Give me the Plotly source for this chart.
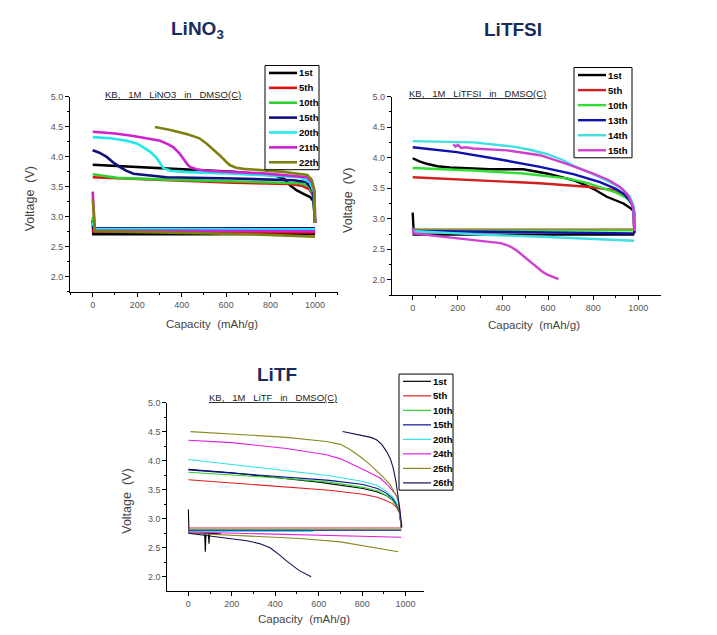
import plotly.graph_objects as go

# ---------------- DATA ----------------
# Panel 1: LiNO3
lino3_cycles = ["1st", "5th", "10th", "15th", "20th", "21th", "22th"]
lino3_chg_cap = [
    [0, 150, 333, 633, 820, 858, 890, 918, 950, 978, 995, 1000],
    [0, 333, 633, 888, 940, 975, 992, 1000],
    [0, 50, 108, 333, 783, 933, 970, 990, 1000],
    [0, 30, 63, 95, 123, 150, 183, 250, 333, 633, 903, 960, 990, 1000],
    [0, 80, 153, 200, 228, 260, 288, 305, 318, 350, 408, 633, 933, 975, 995, 1000],
    [0, 100, 183, 250, 303, 340, 363, 390, 408, 425, 438, 470, 513, 783, 963, 985, 997, 1000],
    [280, 350, 423, 480, 513, 545, 573, 600, 618, 645, 678, 858, 965, 985, 997, 1000],
]
lino3_chg_v = [
    [3.87, 3.84, 3.80, 3.75, 3.69, 3.64, 3.52, 3.44, 3.38, 3.33, 3.25, 2.90],
    [3.66, 3.61, 3.57, 3.55, 3.52, 3.46, 3.35, 2.90],
    [3.71, 3.68, 3.65, 3.62, 3.58, 3.56, 3.52, 3.40, 2.90],
    [4.11, 4.07, 4.00, 3.90, 3.83, 3.77, 3.72, 3.69, 3.66, 3.64, 3.61, 3.58, 3.45, 2.90],
    [4.33, 4.31, 4.27, 4.22, 4.16, 4.08, 3.98, 3.88, 3.81, 3.77, 3.75, 3.72, 3.66, 3.58, 3.42, 2.90],
    [4.42, 4.39, 4.35, 4.31, 4.27, 4.21, 4.16, 4.06, 3.96, 3.88, 3.83, 3.79, 3.77, 3.72, 3.66, 3.58, 3.42, 2.90],
    [4.50, 4.45, 4.38, 4.31, 4.22, 4.12, 4.02, 3.92, 3.86, 3.82, 3.80, 3.75, 3.70, 3.62, 3.45, 2.90],
]
lino3_dis_cap = [
    [0, 3, 500, 1000],
    [0, 5, 1000],
    [0, 8, 1000],
    [0, 5, 1000],
    [0, 10, 1000],
    [0, 10, 1000],
    [0, 10, 300, 700, 1000],
]
lino3_dis_v = [
    [2.95, 2.71, 2.71, 2.72],
    [2.80, 2.75, 2.74],
    [3.00, 2.79, 2.78],
    [2.85, 2.81, 2.81],
    [2.90, 2.80, 2.79],
    [3.42, 2.77, 2.76],
    [3.30, 2.76, 2.74, 2.71, 2.67],
]

# Panel 2: LiTFSI
litfsi_cycles = ["1st", "5th", "10th", "13th", "14th", "15th"]
litfsi_chg_cap = [
    [0, 30, 62, 110, 165, 343, 490, 594, 660, 712, 760, 800, 860, 934, 970, 982, 982],
    [0, 269, 564, 786, 889, 950, 975, 982],
    [0, 269, 490, 682, 760, 830, 900, 948, 972, 982, 982],
    [0, 195, 387, 564, 712, 830, 900, 934, 962, 978, 982],
    [0, 269, 446, 520, 594, 660, 712, 830, 900, 934, 962, 978, 982],
    [180, 190, 200, 215, 235, 269, 417, 564, 682, 800, 870, 919, 955, 978, 982],
]
litfsi_chg_v = [
    [3.99, 3.94, 3.90, 3.86, 3.84, 3.81, 3.81, 3.74, 3.68, 3.63, 3.56, 3.49, 3.36, 3.25, 3.16, 3.10, 2.76],
    [3.68, 3.63, 3.58, 3.52, 3.47, 3.38, 3.25, 2.80],
    [3.83, 3.79, 3.74, 3.66, 3.60, 3.52, 3.43, 3.34, 3.24, 3.12, 2.80],
    [4.17, 4.09, 3.97, 3.85, 3.73, 3.60, 3.49, 3.41, 3.30, 3.18, 2.78],
    [4.27, 4.25, 4.18, 4.13, 4.06, 3.97, 3.87, 3.68, 3.55, 3.47, 3.36, 3.22, 2.80],
    [4.22, 4.18, 4.21, 4.16, 4.17, 4.15, 4.12, 4.04, 3.90, 3.74, 3.63, 3.52, 3.38, 3.18, 2.80],
]
litfsi_dis_cap = [
    [0, 5, 982],
    [0, 982],
    [0, 5, 982],
    [0, 982],
    [0, 300, 600, 982],
    [0, 5, 100, 195, 270, 343, 390, 417, 440, 461, 483, 505, 528, 550, 572, 594, 620, 646],
]
litfsi_dis_v = [
    [3.10, 2.74, 2.74],
    [2.82, 2.82],
    [2.85, 2.81, 2.81],
    [2.80, 2.76],
    [2.80, 2.74, 2.70, 2.64],
    [2.85, 2.76, 2.72, 2.68, 2.66, 2.63, 2.60, 2.57, 2.53, 2.48, 2.41, 2.34, 2.27, 2.20, 2.14, 2.09, 2.05, 2.01],
]

# Panel 3: LiTF
litf_cycles = ["1st", "5th", "10th", "15th", "20th", "24th", "25th", "26th"]
litf_chg_cap = [
    [0, 200, 422, 600, 804, 870, 911, 940, 959, 972, 980],
    [0, 422, 650, 804, 870, 911, 940, 959, 972, 980],
    [0, 422, 650, 804, 870, 911, 940, 959, 972, 980],
    [0, 422, 650, 804, 870, 911, 940, 959, 972, 980],
    [0, 422, 650, 804, 870, 911, 940, 959, 972, 980],
    [0, 200, 452, 636, 700, 759, 820, 882, 920, 958, 972, 980],
    [10, 200, 452, 636, 700, 744, 790, 836, 885, 928, 966, 980],
    [710, 790, 840, 866, 890, 912, 930, 943, 955, 966, 976, 983],
]
litf_chg_v = [
    [3.85, 3.79, 3.70, 3.63, 3.52, 3.46, 3.40, 3.32, 3.22, 3.10, 2.85],
    [3.67, 3.56, 3.49, 3.42, 3.37, 3.31, 3.26, 3.19, 3.10, 2.85],
    [3.80, 3.70, 3.63, 3.54, 3.48, 3.40, 3.32, 3.22, 3.12, 2.85],
    [3.84, 3.73, 3.66, 3.59, 3.52, 3.44, 3.35, 3.24, 3.13, 2.85],
    [4.02, 3.84, 3.74, 3.64, 3.57, 3.47, 3.38, 3.27, 3.15, 2.85],
    [4.35, 4.31, 4.21, 4.10, 4.03, 3.93, 3.82, 3.70, 3.57, 3.40, 3.22, 2.85],
    [4.50, 4.46, 4.40, 4.33, 4.28, 4.19, 4.07, 3.93, 3.76, 3.59, 3.33, 2.85],
    [4.50, 4.44, 4.40, 4.36, 4.28, 4.16, 4.03, 3.87, 3.65, 3.36, 3.05, 2.85],
]
litf_dis_cap = [
    [0, 3, 75, 78, 81, 92, 95, 98, 150],
    [0, 980],
    [0, 980],
    [0, 980],
    [0, 575],
    [0, 500, 980],
    [0, 300, 514, 700, 966],
    [0, 146, 269, 330, 376, 415, 453, 509, 565],
]
litf_dis_v = [
    [3.16, 2.75, 2.75, 2.43, 2.75, 2.75, 2.57, 2.75, 2.74],
    [2.84, 2.84],
    [2.81, 2.81],
    [2.80, 2.80],
    [2.78, 2.78],
    [2.77, 2.72, 2.68],
    [2.75, 2.70, 2.66, 2.60, 2.43],
    [2.75, 2.68, 2.62, 2.57, 2.50, 2.39, 2.27, 2.11, 2.00],
]

# ---------------- STYLE ----------------
W, H = 717, 635
FONT = "Liberation Sans, Arial, sans-serif"
TITLE_COL = "#1b2b5b"
SP = "&nbsp;"

panels = [
    dict(name="LiNO<sub>3</sub>", sub="KB,   1M   LiNO3   in   DMSO(C)",
         cycles=lino3_cycles, cc=lino3_chg_cap, cv=lino3_chg_v, dc=lino3_dis_cap, dv=lino3_dis_v,
         colors=["#000000", "#e01010", "#30d030", "#101080", "#20e8e8", "#d020d0", "#808010"],
         lw=2.6, xpx=(70, 338), ypx=(92.7, 289), xr=(-102, 1103), yr=(1.75, 5.0),
         title_xy=(197, 25), sub_xy=(173, 90), leg=(265, 61, 54, 105), leg_lw=2.6,
         ylab_x=30, xlab_y=322),
    dict(name="LiTFSI", sub="KB,   1M   LiTFSI   in   DMSO(C)",
         cycles=litfsi_cycles, cc=litfsi_chg_cap, cv=litfsi_chg_v, dc=litfsi_dis_cap, dv=litfsi_dis_v,
         colors=["#000000", "#d02020", "#30e030", "#1010b0", "#40e0e0", "#d040d0"],
         lw=2.4, xpx=(391.7, 660.7), ypx=(92.3, 292.7), xr=(-93, 1099), yr=(1.745, 5.0),
         title_xy=(513, 25), sub_xy=(477, 89), leg=(574, 63, 58, 91), leg_lw=2.4,
         ylab_x=348, xlab_y=323),
    dict(name="LiTF", sub="KB,   1M   LiTF   in   DMSO(C)",
         cycles=litf_cycles, cc=litf_chg_cap, cv=litf_chg_v, dc=litf_dis_cap, dv=litf_dis_v,
         colors=["#000000", "#e02020", "#30d030", "#101090", "#30e0e0", "#e020e0", "#8a8a20", "#101050"],
         lw=1.1, xpx=(167.3, 424.3), ypx=(400.7, 590.7), xr=(-97, 1086), yr=(1.754, 5.0),
         title_xy=(277, 372), sub_xy=(273, 396), leg=(399, 372, 54, 117), leg_lw=1.2,
         ylab_x=127, xlab_y=619),
]

def px2x(px):
    return px / W

def px2y(py):
    return 1 - py / H

def spaced(s):
    return s.replace(" ", SP)

fig = go.Figure()
annotations = []
shapes = []

def note(px, py, text, size, color, bold=False, angle=0, xanchor="center"):
    annotations.append(dict(
        x=px2x(px), y=px2y(py), xref="paper", yref="paper", xanchor=xanchor, yanchor="middle",
        text=("<b>" + text + "</b>") if bold else text, textangle=angle, showarrow=False,
        font=dict(family=FONT, size=size, color=color)))

for i, p in enumerate(panels):
    n = "" if i == 0 else str(i + 1)
    xa, ya = "x" + n, "y" + n
    for k, cyc in enumerate(p["cycles"]):
        xs = list(p["cc"][k]) + [None] + list(p["dc"][k])
        ys = list(p["cv"][k]) + [None] + list(p["dv"][k])
        fig.add_trace(go.Scatter(
            x=xs, y=ys, mode="lines", name=cyc, xaxis=xa, yaxis=ya,
            line=dict(color=p["colors"][k], width=p["lw"]),
            connectgaps=False, showlegend=False,
        ))
    axis_common = dict(showline=True, linecolor="black", linewidth=1, ticks="outside",
                       ticklen=4, tickcolor="black", showgrid=False, zeroline=False,
                       tickfont=dict(family=FONT, size=9, color="#555555"))
    fig.layout["xaxis" + n] = dict(
        axis_common, domain=[px2x(p["xpx"][0]), px2x(p["xpx"][1])], range=list(p["xr"]),
        anchor=ya, tickmode="linear", tick0=0, dtick=200,
        minor=dict(ticks="outside", ticklen=2, dtick=100, tick0=0, tickcolor="black"),
    )
    fig.layout["yaxis" + n] = dict(
        axis_common, domain=[px2y(p["ypx"][1]), px2y(p["ypx"][0])], range=list(p["yr"]),
        anchor=xa, tickmode="linear", tick0=2.0, dtick=0.5, tickformat=".1f",
        minor=dict(ticks="outside", ticklen=2, dtick=0.25, tick0=2.0, tickcolor="black"),
    )
    # axis titles
    note(p["ylab_x"], (p["ypx"][0] + p["ypx"][1]) / 2 + 5, spaced("Voltage  (V)"), 12.5, "#444444", angle=-90)
    note((p["xpx"][0] + p["xpx"][1]) / 2 + 8, p["xlab_y"], spaced("Capacity  (mAh/g)"), 11.5, "#444444")
    # panel title and subtitle
    note(p["title_xy"][0], p["title_xy"][1], p["name"], 19, TITLE_COL, bold=True)
    note(p["sub_xy"][0], p["sub_xy"][1], "<u>" + spaced(p["sub"]) + "</u>", 9.5, "#222222")
    # legend box
    L, T, LW, LH = p["leg"]
    shapes.append(dict(type="rect", xref="paper", yref="paper", x0=px2x(L), x1=px2x(L + LW),
                       y0=px2y(T + LH), y1=px2y(T), line=dict(color="black", width=1),
                       fillcolor="white", layer="above"))
    m = len(p["cycles"])
    step = LH / m
    for k, cyc in enumerate(p["cycles"]):
        cy = T + step * (k + 0.5)
        shapes.append(dict(type="line", xref="paper", yref="paper", x0=px2x(L + 4), x1=px2x(L + 32),
                           y0=px2y(cy), y1=px2y(cy), line=dict(color=p["colors"][k], width=p["leg_lw"]),
                           layer="above"))
        note(L + 32, cy, cyc, 9.5, "black", bold=True, xanchor="left")

fig.update_layout(
    width=W, height=H, margin=dict(l=0, r=0, t=0, b=0),
    paper_bgcolor="white", plot_bgcolor="white",
    showlegend=False, annotations=annotations, shapes=shapes,
    font=dict(family=FONT),
)

fig.write_html("out.html")
